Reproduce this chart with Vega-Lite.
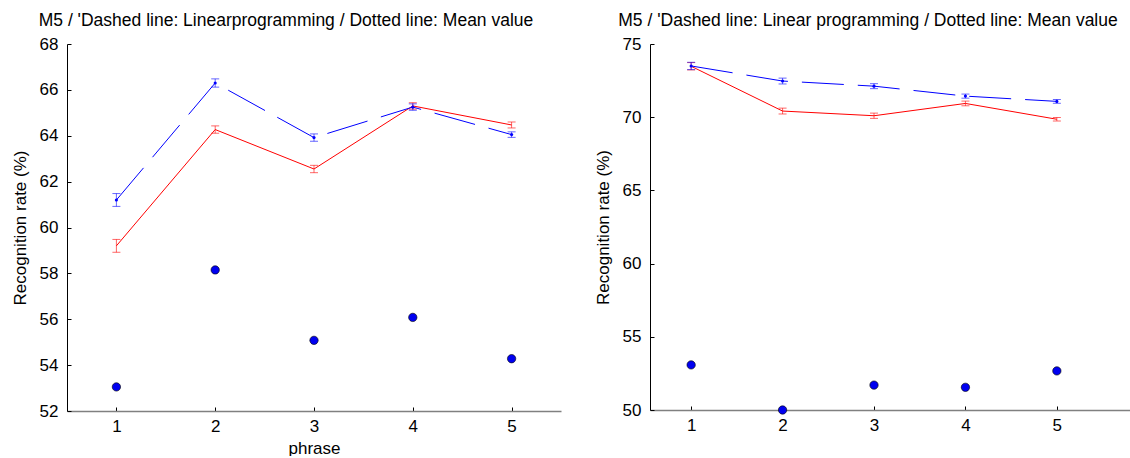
{
  "$schema": "https://vega.github.io/schema/vega-lite/v6.json",
  "background": "white",
  "padding": {"left": 11, "top": 11, "right": 0, "bottom": 0},
  "bounds": "flush",
  "spacing": 89,
  "config": {
    "font": "Liberation Sans",
    "view": {"stroke": null},
    "axis": {
      "grid": false,
      "domainColor": "#000000",
      "domainWidth": 1,
      "tickColor": "#000000",
      "tickSize": -4,
      "labelFontSize": 17,
      "labelColor": "#000000",
      "titleFontSize": 17,
      "titleFontWeight": "normal",
      "titleColor": "#000000"
    },
    "axisX": {"domainColor": "#808080", "domainWidth": 1.6, "labelPadding": 11, "titlePadding": 6},
    "axisY": {"labelPadding": 13, "titlePadding": 10},
    "title": {"fontSize": 17.5, "fontWeight": "normal", "font": "Liberation Sans", "color": "#000000", "anchor": "middle", "offset": 6}
  },
  "hconcat": [
    {
      "width": 494,
      "height": 367,
      "title": {"text": "M5 / 'Dashed line: Linearprogramming / Dotted line: Mean value", "dx": -28},
      "data": {"values": [
        {"phrase": 1, "lp": 61.2, "lp_lo": 60.92, "lp_hi": 61.48, "base": 59.2, "base_lo": 58.92, "base_hi": 59.48, "mean": 53.05},
        {"phrase": 2, "lp": 66.3, "lp_lo": 66.12, "lp_hi": 66.48, "base": 64.27, "base_lo": 64.11, "base_hi": 64.43, "mean": 58.15},
        {"phrase": 3, "lp": 63.92, "lp_lo": 63.76, "lp_hi": 64.08, "base": 62.55, "base_lo": 62.39, "base_hi": 62.71, "mean": 55.08},
        {"phrase": 4, "lp": 65.25, "lp_lo": 65.11, "lp_hi": 65.39, "base": 65.3, "base_lo": 65.16, "base_hi": 65.44, "mean": 56.08},
        {"phrase": 5, "lp": 64.05, "lp_lo": 63.93, "lp_hi": 64.17, "base": 64.47, "base_lo": 64.34, "base_hi": 64.6, "mean": 54.28}
      ]},
      "encoding": {
        "x": {"field": "phrase", "type": "quantitative", "scale": {"domain": [0.5, 5.5], "nice": false, "zero": false}, "axis": {"values": [1, 2, 3, 4, 5], "title": "phrase", "format": "d"}}
      },
      "layer": [
        {"mark": {"type": "line", "color": "#ff0000", "strokeWidth": 1},
         "encoding": {"y": {"field": "base", "type": "quantitative", "scale": {"domain": [52, 68], "nice": false, "zero": false}, "axis": {"values": [52, 54, 56, 58, 60, 62, 64, 66, 68], "title": "Recognition rate (%)"}}}},
        {"mark": {"type": "rule", "color": "#ff0000", "opacity": 0.6, "strokeWidth": 1},
         "encoding": {"y": {"field": "base_lo", "type": "quantitative"}, "y2": {"field": "base_hi"}}},
        {"mark": {"type": "tick", "color": "#ff0000", "opacity": 0.6, "size": 8, "thickness": 1, "orient": "horizontal"},
         "encoding": {"y": {"field": "base_lo", "type": "quantitative"}}},
        {"mark": {"type": "tick", "color": "#ff0000", "opacity": 0.6, "size": 8, "thickness": 1, "orient": "horizontal"},
         "encoding": {"y": {"field": "base_hi", "type": "quantitative"}}},
        {"mark": {"type": "line", "color": "#0000ff", "strokeWidth": 1, "strokeDash": [42, 14]},
         "encoding": {"y": {"field": "lp", "type": "quantitative"}}},
        {"mark": {"type": "rule", "color": "#0000ff", "opacity": 0.6, "strokeWidth": 1},
         "encoding": {"y": {"field": "lp_lo", "type": "quantitative"}, "y2": {"field": "lp_hi"}}},
        {"mark": {"type": "tick", "color": "#0000ff", "opacity": 0.6, "size": 8, "thickness": 1, "orient": "horizontal"},
         "encoding": {"y": {"field": "lp_lo", "type": "quantitative"}}},
        {"mark": {"type": "tick", "color": "#0000ff", "opacity": 0.6, "size": 8, "thickness": 1, "orient": "horizontal"},
         "encoding": {"y": {"field": "lp_hi", "type": "quantitative"}}},
        {"mark": {"type": "point", "filled": true, "color": "#0000ff", "size": 10, "opacity": 1},
         "encoding": {"y": {"field": "lp", "type": "quantitative"}}},
        {"mark": {"type": "point", "filled": true, "fill": "#0000f0", "stroke": "#000000", "strokeWidth": 0.6, "size": 70, "opacity": 1},
         "encoding": {"y": {"field": "mean", "type": "quantitative"}}}
      ]
    },
    {
      "width": 480,
      "height": 366,
      "title": {"text": "M5 / 'Dashed line: Linear programming / Dotted line: Mean value", "dx": -22},
      "data": {"values": [
        {"phrase": 1, "lp": 73.5, "lp_lo": 73.25, "lp_hi": 73.75, "base": 73.48, "base_lo": 73.23, "base_hi": 73.73, "mean": 53.08},
        {"phrase": 2, "lp": 72.47, "lp_lo": 72.27, "lp_hi": 72.67, "base": 70.42, "base_lo": 70.22, "base_hi": 70.62, "mean": 50.0},
        {"phrase": 3, "lp": 72.12, "lp_lo": 71.95, "lp_hi": 72.29, "base": 70.1, "base_lo": 69.92, "base_hi": 70.28, "mean": 51.7},
        {"phrase": 4, "lp": 71.44, "lp_lo": 71.3, "lp_hi": 71.58, "base": 70.94, "base_lo": 70.78, "base_hi": 71.1, "mean": 51.55},
        {"phrase": 5, "lp": 71.08, "lp_lo": 70.95, "lp_hi": 71.21, "base": 69.86, "base_lo": 69.74, "base_hi": 69.98, "mean": 52.67}
      ]},
      "encoding": {
        "x": {"field": "phrase", "type": "quantitative", "scale": {"domain": [0.55, 5.8], "nice": false, "zero": false}, "axis": {"values": [1, 2, 3, 4, 5], "title": null, "format": "d"}}
      },
      "layer": [
        {"mark": {"type": "line", "color": "#ff0000", "strokeWidth": 1},
         "encoding": {"y": {"field": "base", "type": "quantitative", "scale": {"domain": [50, 75], "nice": false, "zero": false}, "axis": {"values": [50, 55, 60, 65, 70, 75], "title": "Recognition rate (%)"}}}},
        {"mark": {"type": "rule", "color": "#ff0000", "opacity": 0.6, "strokeWidth": 1},
         "encoding": {"y": {"field": "base_lo", "type": "quantitative"}, "y2": {"field": "base_hi"}}},
        {"mark": {"type": "tick", "color": "#ff0000", "opacity": 0.6, "size": 8, "thickness": 1, "orient": "horizontal"},
         "encoding": {"y": {"field": "base_lo", "type": "quantitative"}}},
        {"mark": {"type": "tick", "color": "#ff0000", "opacity": 0.6, "size": 8, "thickness": 1, "orient": "horizontal"},
         "encoding": {"y": {"field": "base_hi", "type": "quantitative"}}},
        {"mark": {"type": "line", "color": "#0000ff", "strokeWidth": 1, "strokeDash": [42, 14]},
         "encoding": {"y": {"field": "lp", "type": "quantitative"}}},
        {"mark": {"type": "rule", "color": "#0000ff", "opacity": 0.6, "strokeWidth": 1},
         "encoding": {"y": {"field": "lp_lo", "type": "quantitative"}, "y2": {"field": "lp_hi"}}},
        {"mark": {"type": "tick", "color": "#0000ff", "opacity": 0.6, "size": 8, "thickness": 1, "orient": "horizontal"},
         "encoding": {"y": {"field": "lp_lo", "type": "quantitative"}}},
        {"mark": {"type": "tick", "color": "#0000ff", "opacity": 0.6, "size": 8, "thickness": 1, "orient": "horizontal"},
         "encoding": {"y": {"field": "lp_hi", "type": "quantitative"}}},
        {"mark": {"type": "point", "filled": true, "color": "#0000ff", "size": 10, "opacity": 1},
         "encoding": {"y": {"field": "lp", "type": "quantitative"}}},
        {"mark": {"type": "point", "filled": true, "fill": "#0000f0", "stroke": "#000000", "strokeWidth": 0.6, "size": 70, "opacity": 1},
         "encoding": {"y": {"field": "mean", "type": "quantitative"}}}
      ]
    }
  ]
}
